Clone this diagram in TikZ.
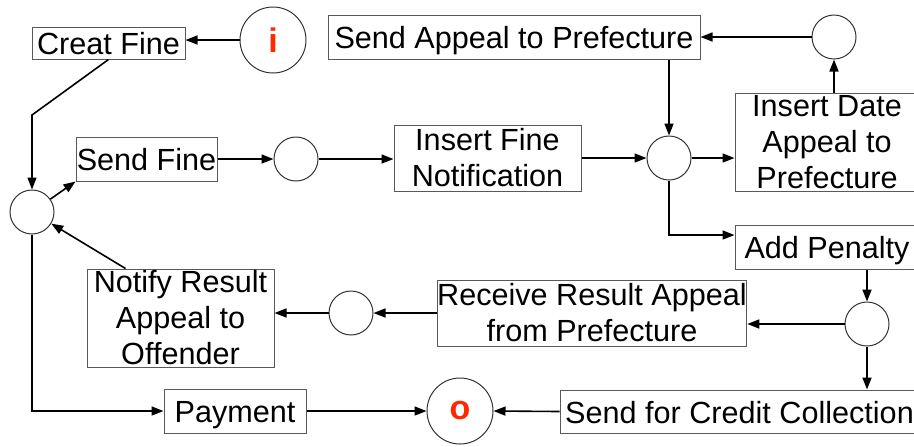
\documentclass[tikz,border=0pt]{standalone}
\usepackage{fontspec}
\setmainfont{Liberation Sans}
\usetikzlibrary{arrows.meta}
\definecolor{tokred}{RGB}{255,40,0}
\begin{document}
\begin{tikzpicture}[x=0.5pt,y=-0.5pt,
  box/.style={draw=black!65,line width=0.5pt,inner sep=0pt,align=center,
    font=\fontsize{15.3pt}{18pt}\selectfont},
  onerow/.style={box,text height=11.6pt,text depth=0pt},
  place/.style={circle,draw=black!80,line width=0.5pt,inner sep=0pt,minimum size=22pt},
  bigplace/.style={place,minimum size=33pt,text=tokred,font=\fontsize{17pt}{18pt}\selectfont\bfseries},
  arr/.style={-{Triangle[length=6pt,width=4.5pt]},line width=0.8pt}]
\useasboundingbox (0,0) rectangle (914,446);
% places
\node[bigplace] (i) at (273,40) {i};
\node[bigplace] (o) at (460,411) {o};
\node[place] (p0) at (32,212) {};
\node[place] (p1) at (296,159) {};
\node[place] (p2) at (669,158) {};
\node[place] (p3) at (834,37) {};
\node[place] (p4) at (867,324) {};
\node[place] (p5) at (351,313) {};
% transitions
\node[onerow,minimum width=76.5pt,minimum height=16pt] (crea) at (108.5,43) {Creat Fine};
\node[onerow,minimum width=70.5pt,minimum height=22pt] (sendf) at (146.5,159) {Send Fine};
\node[box,minimum width=93.5pt,minimum height=33pt] (insfn) at (487.5,158) {Insert Fine\\Notification};
\node[onerow,minimum width=186pt,minimum height=22pt] (sendap) at (514,37) {Send Appeal to Prefecture};
\node[box,minimum width=92pt,minimum height=49pt] (insdate) at (827,142) {Insert Date\\Appeal to\\Prefecture};
\node[onerow,minimum width=92pt,minimum height=22pt] (addpen) at (827,247) {Add Penalty};
\node[box,minimum width=154pt,minimum height=33pt] (recv) at (592,313) {Receive Result Appeal\\from Prefecture};
\node[box,minimum width=93.5pt,minimum height=49pt] (notify) at (180.5,318) {Notify Result\\Appeal to\\Offender};
\node[onerow,minimum width=71pt,minimum height=22pt] (pay) at (235,411) {Payment};
\node[onerow,minimum width=179.5pt,minimum height=21.5pt] (credit) at (739.5,411.5) {Send for Credit Collection};
\coordinate (bend) at (32,115);
% arcs
\draw[arr] (i.west) -- (i.west -| crea.east);
\draw[arr] (crea.south) -- (bend) -- (p0);
\draw[arr] (p0) -- (sendf.south west);
\draw[arr] (sendf.east) -- (p1.west);
\draw[arr] (p1.east) -- (p1.east -| insfn.west);
\draw[arr] (insfn.east -| insfn.east) -- (p2.west);
\draw[arr] (sendap.south -| p2) -- (p2.north);
\draw[arr] (p2.east) -- (p2.east -| insdate.west);
\draw[arr] (p3.south |- insdate.north) -- (p3.south);
\draw[arr] (p3.west) -- (p3.west -| sendap.east);
\draw[arr] (p2.south) |- ([yshift=6pt]addpen.west);
\draw[arr] (p4.north |- addpen.south) -- (p4.north);
\draw[arr] (p4.west) -- (p4.west -| recv.east);
\draw[arr] (recv.west) -- (p5.east);
\draw[arr] (p5.west) -- (p5.west -| notify.east);
\draw[arr] ([xshift=19.5pt]notify.north west) -- (p0);
\draw[arr] (p0.south) |- (pay.west);
\draw[arr] (pay.east) -- (o.west);
\draw[arr] (credit.west) -- (o.east);
\draw[arr] (p4.south) -- (p4.south |- credit.north);
\end{tikzpicture}
\end{document}
